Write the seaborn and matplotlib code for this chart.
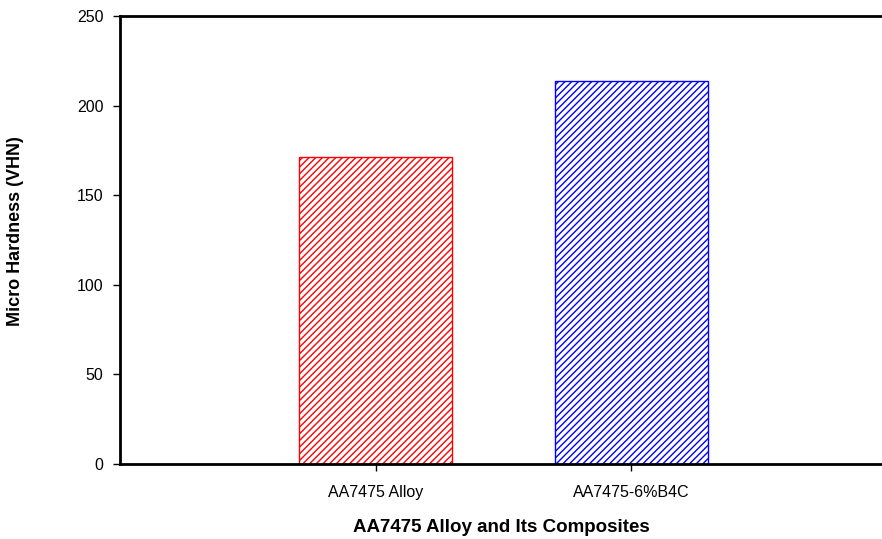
import matplotlib
matplotlib.use("Agg")
import matplotlib.pyplot as plt
import seaborn as sns
import pandas as pd

materials = ["AA7475 Alloy", "AA7475-6%B4C"]
hardness = [171.5, 213.8]
edge_colors = ["#ff0000", "#0000ff"]

sns.set_style("white")
plt.rcParams["font.family"] = ["Liberation Sans", "DejaVu Sans"]
plt.rcParams["hatch.linewidth"] = 1.0
plt.rcParams["text.color"] = "black"
plt.rcParams["axes.labelcolor"] = "black"

df = pd.DataFrame({"Material": materials, "Hardness": hardness})

fig = plt.figure(figsize=(8.82, 5.39), dpi=100)
ax = fig.add_axes([0.136, 0.139, 0.864, 0.831])

sns.barplot(data=df, x="Material", y="Hardness", width=0.6, ax=ax,
            color="white", saturation=1)

for bar, ec in zip(ax.patches, edge_colors):
    bar.set_facecolor("white")
    bar.set_edgecolor(ec)
    bar.set_hatch("/////")
    bar.set_linewidth(1.0)

ax.set_xlim(-1.0, 1.98)
ax.set_ylim(0, 250)
ax.set_yticks([0, 50, 100, 150, 200, 250])

for side in ["left", "top", "bottom"]:
    ax.spines[side].set_linewidth(2)
    ax.spines[side].set_color("black")
ax.spines["right"].set_visible(False)

ax.tick_params(axis="both", direction="out", length=5, width=1, colors="black",
               labelsize=11.5, left=True, bottom=True)
ax.tick_params(axis="y", pad=7)
ax.tick_params(axis="x", pad=10)

ax.set_xlabel("AA7475 Alloy and Its Composites", fontsize=13.5, fontweight="bold",
              labelpad=14, color="black")
ax.set_ylabel("Micro Hardness (VHN)", fontsize=13, fontweight="bold", color="black")
ax.yaxis.set_label_coords(-0.126, 0.52)

fig.savefig("out.png", dpi=100)
